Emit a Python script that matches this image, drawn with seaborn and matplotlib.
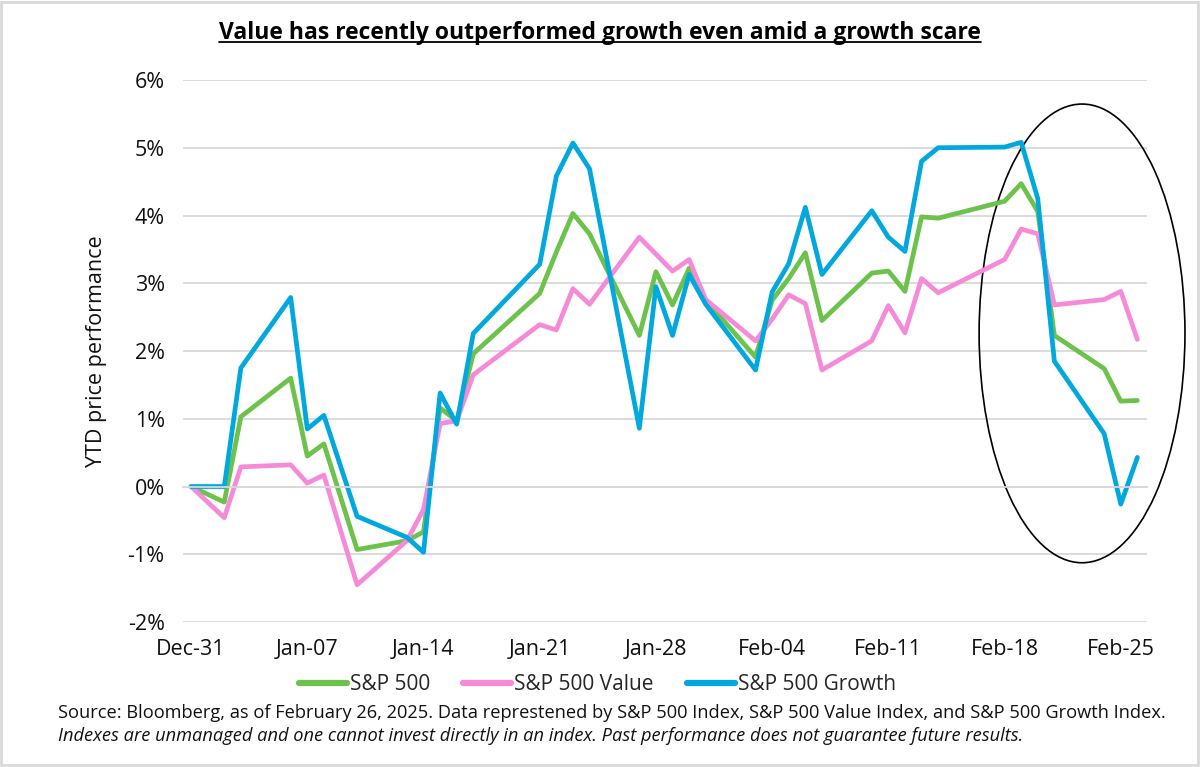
import matplotlib as mpl
mpl.use('Agg')
import matplotlib.pyplot as plt
import matplotlib.dates as mdates
from matplotlib.patches import Ellipse, Rectangle
from matplotlib.lines import Line2D
from matplotlib.ticker import PercentFormatter, MultipleLocator
import pandas as pd
import seaborn as sns

# trading days, YTD price performance in %
dates = ['2024-12-31', '2025-01-02', '2025-01-03', '2025-01-06', '2025-01-07', '2025-01-08',
         '2025-01-10', '2025-01-13', '2025-01-14', '2025-01-15', '2025-01-16', '2025-01-17',
         '2025-01-21', '2025-01-22', '2025-01-23', '2025-01-24', '2025-01-27', '2025-01-28',
         '2025-01-29', '2025-01-30', '2025-01-31', '2025-02-03', '2025-02-04', '2025-02-05',
         '2025-02-06', '2025-02-07', '2025-02-10', '2025-02-11', '2025-02-12', '2025-02-13',
         '2025-02-14', '2025-02-18', '2025-02-19', '2025-02-20', '2025-02-21', '2025-02-24',
         '2025-02-25', '2025-02-26']
sp500 = [0, -0.23, 1.03, 1.60, 0.45, 0.63, -0.93, -0.80, -0.67, 1.16, 0.97, 1.96,
         2.85, 3.46, 4.03, 3.73, 2.23, 3.17, 2.68, 3.22, 2.75, 1.91, 2.75, 3.07,
         3.45, 2.45, 3.15, 3.18, 2.88, 3.98, 3.96, 4.21, 4.47, 4.06, 2.23, 1.74,
         1.26, 1.27]
sp500_value = [0, -0.46, 0.29, 0.32, 0.05, 0.17, -1.45, -0.80, -0.34, 0.93, 0.97, 1.65,
               2.39, 2.31, 2.92, 2.69, 3.68, 3.43, 3.18, 3.35, 2.76, 2.15, 2.47, 2.83,
               2.70, 1.72, 2.15, 2.67, 2.27, 3.07, 2.86, 3.35, 3.80, 3.73, 2.68, 2.76,
               2.88, 2.17]
sp500_growth = [0, 0, 1.75, 2.79, 0.85, 1.05, -0.44, -0.75, -0.97, 1.38, 0.92, 2.26,
                3.28, 4.58, 5.07, 4.69, 0.86, 2.95, 2.23, 3.13, 2.69, 1.72, 2.87, 3.29,
                4.12, 3.13, 4.07, 3.68, 3.47, 4.80, 5.00, 5.01, 5.08, 4.25, 1.85, 0.78,
                -0.26, 0.43]
series_names = ['S&P 500', 'S&P 500 Value', 'S&P 500 Growth']
tick_dates = ['2024-12-31', '2025-01-07', '2025-01-14', '2025-01-21', '2025-01-28',
              '2025-02-04', '2025-02-11', '2025-02-18', '2025-02-25']
tick_labels = ['Dec-31', 'Jan-07', 'Jan-14', 'Jan-21', 'Jan-28', 'Feb-04', 'Feb-11', 'Feb-18', 'Feb-25']

title = 'Value has recently outperformed growth even amid a growth scare'
source_1 = ('Source: Bloomberg, as of February 26, 2025. Data represtened by S&P 500 Index, '
            'S&P 500 Value Index, and S&P 500 Growth Index.')
source_2 = ('Indexes are unmanaged and one cannot invest directly in an index. '
            'Past performance does not guarantee future results.')

colors = ['#6CC24A', '#F58BD8', '#00A8DE']
grid_color = '#d9d9d9'
text_color = '#111111'

sns.set_theme(style='white', rc={'axes.edgecolor': grid_color})
plt.rcParams['font.family'] = ['Open Sans', 'DejaVu Sans']
plt.rcParams['axes.unicode_minus'] = False

df = pd.DataFrame({'date': pd.to_datetime(dates), 'S&P 500': sp500,
                   'S&P 500 Value': sp500_value, 'S&P 500 Growth': sp500_growth})
long_df = df.melt(id_vars='date', var_name='series', value_name='ytd')

fig = plt.figure(figsize=(12, 7.67), dpi=100)
ax = fig.add_axes([0.1523, 0.189, 0.8033, 0.7067])

sns.lineplot(data=long_df, x='date', y='ytd', hue='series', hue_order=series_names,
             palette=colors, linewidth=3.4, ax=ax, legend=False)

# axes limits and grid
start = pd.Timestamp(dates[0])
ax.set_xlim(start - pd.Timedelta(hours=10.5), start + pd.Timedelta(days=57, hours=13.5))
ax.set_ylim(-2, 6)
ax.yaxis.set_major_locator(MultipleLocator(1))
ax.yaxis.set_major_formatter(PercentFormatter(decimals=0))
ax.grid(axis='y', color=grid_color, linewidth=1.3)
ax.set_axisbelow(True)
for side in ['top', 'right', 'left']:
    ax.spines[side].set_visible(False)
ax.spines['bottom'].set_position(('data', 0))
ax.spines['bottom'].set_color(grid_color)
ax.spines['bottom'].set_linewidth(1.3)

# tick marks sit on the zero line, between day slots
tick_pos = pd.to_datetime(tick_dates)
ax.set_xticks(tick_pos - pd.Timedelta(hours=12))
ax.tick_params(axis='x', length=5, width=1.3, color=grid_color, labelbottom=False)
ax.tick_params(axis='y', length=0, pad=13, labelsize=15.5, labelcolor=text_color)
ax.set_xlabel('')
ax.set_ylabel('YTD price performance', fontsize=15.5, color=text_color)
ax.yaxis.set_label_coords(-0.0785, 0.5)

# date labels along the bottom of the plot
sec = ax.secondary_xaxis('bottom')
sec.set_xticks(tick_pos, tick_labels)
sec.tick_params(length=0, pad=12, labelsize=15.5, labelcolor=text_color)
sec.spines['bottom'].set_visible(False)

# highlight of the recent period
ell = Ellipse((mdates.date2num(pd.Timestamp('2025-02-22') + pd.Timedelta(hours=16)), 2.26),
              width=12.4, height=6.77, fill=False, edgecolor='black', linewidth=1.2,
              clip_on=False)
ax.add_patch(ell)

# legend
handles = [Line2D([], [], color=c, linewidth=4.5) for c in colors]
fig.legend(handles, series_names, loc='center', bbox_to_anchor=(0.498, 1 - 685 / 767),
           ncol=3, frameon=False, fontsize=15, handlelength=2.3, handletextpad=0.15,
           columnspacing=1.6)

# title with underline
t = fig.text(0.5, 1 - 33 / 767, title, ha='center', va='center', fontsize=16.5,
             fontweight='bold', color='black')
fig.canvas.draw()
bb = t.get_window_extent().transformed(fig.transFigure.inverted())
fig.add_artist(Line2D([bb.x0, bb.x1], [1 - 42 / 767] * 2, color='black', linewidth=1.3,
                      transform=fig.transFigure))

fig.text(58 / 1200, 1 - 713 / 767, source_1, ha='left', va='center', fontsize=13.15, color=text_color)
fig.text(58 / 1200, 1 - 736 / 767, source_2, ha='left', va='center', fontsize=13.15,
         style='italic', color=text_color)

fig.patches.append(Rectangle((0.001, 0.002), 0.997, 0.996, transform=fig.transFigure,
                             fill=False, edgecolor=grid_color, linewidth=2))

fig.savefig('out.png', dpi=100)
plt.close(fig)
